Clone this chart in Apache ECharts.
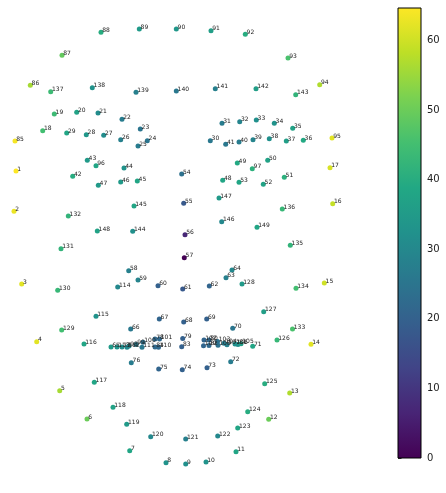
<!DOCTYPE html>
<html>
<head>
<meta charset="utf-8">
<script src="https://cdn.jsdelivr.net/npm/echarts@6/dist/echarts.min.js"></script>
<style>
  html, body { margin: 0; padding: 0; background: #fff; }
  #chart { width: 446px; height: 493px; }
</style>
</head>
<body>
<div id="chart"></div>
<script>
// Landmark positions (x to the right, y downward) and depth value, in landmark order 1..149
const pointX = [
  16, 14, 21.7, 36.7, 59.7, 87, 129.7, 166, 185.7, 206,
  236, 268.7, 289.7, 311, 324.3, 332.7, 330, 42.7, 54.3, 76.7,
  98, 122, 140.3, 147.3, 138, 120.7, 103.7, 86.3, 66.7, 210.3,
  222, 239.7, 256.3, 274.3, 292.7, 303.3, 286.3, 269.3, 253, 239,
  225.7, 72.7, 87.3, 124, 137.3, 120.7, 98.3, 222.7, 237.3, 267.7,
  284.3, 263.3, 239, 181.7, 183.7, 185, 184.3, 128.7, 138, 158,
  182.7, 209.3, 226, 232, 111, 130.7, 159.3, 183.7, 206.7, 232.7,
  252.7, 230.7, 207, 182.3, 158.7, 131.3, 122, 155, 182.7, 209,
  238, 209, 181.7, 155, 15, 30.3, 62, 101, 139.3, 176.3,
  211, 245.3, 288, 319.7, 332, 96, 252.3, 129, 136, 143,
  159.5, 204, 217.5, 224, 241, 235, 227, 218, 203.5, 158.5,
  142, 127, 117, 117.7, 96, 84, 94.3, 113, 126.7, 150.7,
  185.7, 217.7, 237.7, 247.7, 264.7, 277, 263.7, 242, 61.7, 57.7,
  61, 68.3, 292.5, 296, 290.3, 282.3, 50.7, 92.3, 136, 176.3,
  215.3, 256, 295.7, 132.7, 134, 221.7, 219, 97.3, 257
];
const pointY = [
  171, 211.3, 284, 341.7, 390.7, 419, 450.7, 462.7, 464, 462,
  451.7, 419.3, 393, 344.3, 283, 203.7, 167.7, 130.7, 114, 112.3,
  113, 119.3, 129, 140.7, 146, 139.7, 135.3, 134.7, 133, 140.7,
  123.3, 121.7, 120, 123.3, 128.3, 140.3, 141, 138.7, 139.7, 142,
  144.3, 176.3, 160.3, 168, 181, 182, 185.3, 180.3, 163, 160.3,
  177.3, 184.3, 182.3, 174, 203.3, 234.7, 257.7, 270.7, 280, 285.7,
  289, 286, 277.7, 270, 347, 329, 319, 322, 319, 328.3,
  346.3, 361.7, 367.7, 369.7, 369, 362.7, 347, 339, 338.5, 340,
  344.5, 345.5, 346.7, 347, 141, 85.3, 55.3, 32.3, 29, 29,
  30.7, 34.3, 58, 84.7, 138, 165.7, 168.7, 346, 344.5, 342.3,
  339, 340, 341.5, 343.3, 343.8, 344, 344.8, 345.3, 345.8, 347.3,
  347.3, 347.3, 347, 287, 316.3, 344, 382.3, 407.3, 424.3, 436.7,
  439, 436, 428, 411.7, 383.7, 340, 311.7, 284, 330, 290.3,
  248.7, 216, 329, 288.3, 245.3, 209, 91.7, 87.7, 92.3, 91,
  88.7, 88.7, 94.7, 231.3, 206, 221.7, 198, 231, 227.3
];
const pointDepth = [
  64.7, 63, 62, 62, 56, 50, 38, 33, 32, 33,
  38, 50, 57, 62, 60, 59, 61, 45, 44, 37,
  31, 27, 25, 25, 27, 28, 31, 34, 38, 26,
  27, 29, 32, 33, 37, 39, 36, 32, 29, 27,
  26, 40, 35, 33, 38, 35, 35, 38, 39, 37,
  41, 37, 38, 24, 18, 7, 0, 28, 29, 20,
  18, 21, 28, 30, 35, 26, 21, 20, 20, 25,
  38, 27, 20, 20, 21, 27, 31, 22, 20, 22,
  32, 22, 20, 22, 64, 56, 49, 40, 35, 34,
  36, 40, 46, 57, 62, 38, 41, 30, 27, 24,
  22, 21, 24, 27, 36, 32, 28, 24, 21, 22,
  26, 30, 33, 30, 33, 38, 38, 37, 35, 30,
  28, 30, 38, 40, 40, 43, 36, 35, 45, 43,
  42, 42, 46, 45, 42, 43, 44, 33, 28, 26,
  28, 36, 42, 32, 38, 30, 35, 37, 38
];

// Colour bar settings
const depthMin = 0;
const depthMax = 64.7;
const colorbarTicks = [0, 10, 20, 30, 40, 50, 60];

const viridis = ['#440154', '#482475', '#414487', '#355f8d', '#2a788e',
                 '#21918c', '#22a884', '#44bf70', '#7ad151', '#bddf26', '#fde725'];

const points = pointX.map((x, i) => ({
  name: String(i + 1),
  value: [x, pointY[i], pointDepth[i]]
}));

const chart = echarts.init(document.getElementById('chart'), null, { renderer: 'canvas' });

chart.setOption({
  animation: false,
  backgroundColor: '#fff',
  grid: [
    { left: 0, top: 0, width: 395, height: 493 },
    { left: 398, top: 8, width: 23, height: 450 }
  ],
  xAxis: [
    { gridIndex: 0, type: 'value', min: 0, max: 395, show: false },
    { gridIndex: 1, type: 'value', min: 0, max: 1, show: false }
  ],
  yAxis: [
    { gridIndex: 0, type: 'value', min: 0, max: 493, inverse: true, show: false },
    {
      gridIndex: 1, type: 'value', min: depthMin, max: depthMax, position: 'right',
      axisLine: { show: false },
      splitLine: { show: false },
      axisTick: { show: true, length: 3.5, inside: false, customValues: colorbarTicks,
                  lineStyle: { color: '#000', width: 0.8 } },
      axisLabel: { show: true, customValues: colorbarTicks, margin: 6,
                   fontFamily: 'DejaVu Sans', fontSize: 10, color: '#222' }
    }
  ],
  visualMap: {
    show: false,
    type: 'continuous',
    min: depthMin,
    max: depthMax,
    dimension: 2,
    seriesIndex: 0,
    inRange: { color: viridis }
  },
  series: [
    {
      type: 'scatter',
      xAxisIndex: 0,
      yAxisIndex: 0,
      symbolSize: 5,
      data: points,
      label: {
        show: true,
        formatter: p => p.name,
        position: [3.8, 0.5],
        align: 'left',
        verticalAlign: 'middle',
        fontFamily: 'DejaVu Sans',
        fontSize: 6,
        color: '#222'
      },
      itemStyle: { opacity: 1 }
    },
    {
      type: 'custom',
      xAxisIndex: 1,
      yAxisIndex: 1,
      data: [[0, depthMax]],
      silent: true,
      renderItem: (params, api) => {
        const p0 = api.coord([0, depthMin]);
        const p1 = api.coord([1, depthMax]);
        const stops = viridis.map((c, i) => ({ offset: 1 - i / (viridis.length - 1), color: c }));
        return {
          type: 'rect',
          shape: { x: p0[0], y: p1[1], width: p1[0] - p0[0], height: p0[1] - p1[1] },
          style: {
            fill: new echarts.graphic.LinearGradient(0, 0, 0, 1, stops.reverse()),
            stroke: '#000',
            lineWidth: 1
          }
        };
      }
    }
  ]
});
</script>
</body>
</html>
